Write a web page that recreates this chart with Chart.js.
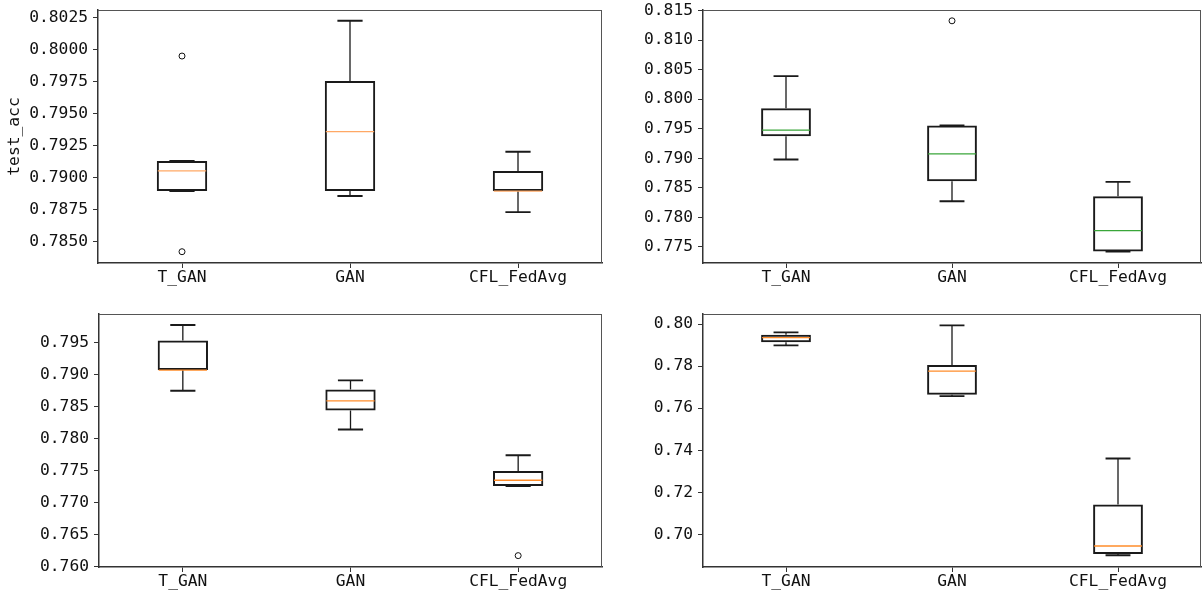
<!DOCTYPE html>
<html><head><meta charset="utf-8">
<script src="https://cdn.jsdelivr.net/npm/chart.js@4.4.0/dist/chart.umd.min.js"></script>
<style>
html,body{margin:0;padding:0;background:#fff;width:1202px;height:594px;overflow:hidden;position:relative;}
canvas{position:absolute;}
</style></head><body>
<canvas id="c1" width="605" height="297" style="left:0px;top:0px"></canvas>
<canvas id="c2" width="597" height="297" style="left:605px;top:0px"></canvas>
<canvas id="c3" width="605" height="297" style="left:0px;top:297px"></canvas>
<canvas id="c4" width="597" height="297" style="left:605px;top:297px"></canvas>
<script>
const categories = ['T_GAN', 'GAN', 'CFL_FedAvg'];

// Top-left panel (test_acc)
const tlLow    = [0.78895, 0.78856, 0.78731];
const tlQ1     = [0.78895, 0.78895, 0.78895];
const tlMedian = [0.79053, 0.79358, 0.78895];
const tlQ3     = [0.79129, 0.79753, 0.79051];
const tlHigh   = [0.79129, 0.80223, 0.79202];
const tlOutliers = [[0.79948, 0.78422], [], []];
const tlTicks  = [0.7850, 0.7875, 0.7900, 0.7925, 0.7950, 0.7975, 0.8000, 0.8025];

// Top-right panel
const trLow    = [0.78980, 0.78274, 0.77422];
const trQ1     = [0.79375, 0.78613, 0.77422];
const trMedian = [0.79476, 0.79075, 0.77778];
const trQ3     = [0.79849, 0.79556, 0.78359];
const trHigh   = [0.80391, 0.79556, 0.78601];
const trOutliers = [[], [0.81327], []];
const trTicks  = [0.775, 0.780, 0.785, 0.790, 0.795, 0.800, 0.805, 0.810, 0.815];

// Bottom-left panel
const blLow    = [0.78748, 0.78143, 0.77259];
const blQ1     = [0.79072, 0.78440, 0.77259];
const blMedian = [0.79072, 0.78591, 0.77348];
const blQ3     = [0.79537, 0.78770, 0.77494];
const blHigh   = [0.79777, 0.78911, 0.77740];
const blOutliers = [[], [], [0.76168]];
const blTicks  = [0.760, 0.765, 0.770, 0.775, 0.780, 0.785, 0.790, 0.795];

// Bottom-right panel
const brLow    = [0.78987, 0.76576, 0.69016];
const brQ1     = [0.79130, 0.76638, 0.69078];
const brMedian = [0.79350, 0.77765, 0.69458];
const brQ3     = [0.79491, 0.78050, 0.71427];
const brHigh   = [0.79605, 0.79938, 0.73614];
const brOutliers = [[], [], []];
const brTicks  = [0.70, 0.72, 0.74, 0.76, 0.78, 0.80];

const FONT = "'DejaVu Sans Mono', 'Liberation Mono', monospace";
const FSIZE = 16.3;
const TEXT = '#111';
const LINE = '#1a1a1a';

const boxParts = {
  id: 'boxParts',
  beforeDatasetsDraw(chart) {
    const o = chart.options.plugins.boxParts;
    const x = chart.scales.x, y = chart.scales.y, ctx = chart.ctx;
    const catW = x.width / categories.length;
    const capW = catW * 0.15;
    ctx.save();
    ctx.strokeStyle = LINE;
    categories.forEach((c, i) => {
      const cx = x.getPixelForValue(i);
      ctx.lineWidth = 1.3;
      ctx.beginPath();
      ctx.moveTo(cx, y.getPixelForValue(o.q3[i]));
      ctx.lineTo(cx, y.getPixelForValue(o.high[i]));
      ctx.moveTo(cx, y.getPixelForValue(o.q1[i]));
      ctx.lineTo(cx, y.getPixelForValue(o.low[i]));
      ctx.stroke();
      ctx.lineWidth = 1.9;
      ctx.beginPath();
      const yh = y.getPixelForValue(o.high[i]);
      const yl = y.getPixelForValue(o.low[i]);
      ctx.moveTo(cx - capW / 2, yh); ctx.lineTo(cx + capW / 2, yh);
      ctx.moveTo(cx - capW / 2, yl); ctx.lineTo(cx + capW / 2, yl);
      ctx.stroke();
    });
    ctx.restore();
  },
  afterDatasetsDraw(chart) {
    const o = chart.options.plugins.boxParts;
    const x = chart.scales.x, y = chart.scales.y, ctx = chart.ctx;
    const catW = x.width / categories.length;
    const boxW = catW * 0.3;
    ctx.save();
    ctx.strokeStyle = o.medianColor;
    ctx.lineWidth = 1.3;
    categories.forEach((c, i) => {
      const cx = x.getPixelForValue(i);
      const ym = y.getPixelForValue(o.median[i]);
      ctx.beginPath();
      ctx.moveTo(cx - boxW / 2 + 1, ym); ctx.lineTo(cx + boxW / 2 - 1, ym);
      ctx.stroke();
    });
    // top and right spines
    const a = chart.chartArea;
    ctx.strokeStyle = '#555';
    ctx.lineWidth = 1;
    ctx.beginPath();
    ctx.moveTo(a.left, a.top + 0.5); ctx.lineTo(a.right, a.top + 0.5);
    ctx.moveTo(a.right - 0.5, a.top); ctx.lineTo(a.right - 0.5, a.bottom);
    ctx.stroke();
    ctx.restore();
  }
};

function zeroPad(sc) {
  sc.paddingTop = 0; sc.paddingBottom = 0; sc.paddingLeft = 0; sc.paddingRight = 0;
}

function makeChart(id, s) {
  const outlierPts = [];
  s.outliers.forEach((arr, i) => arr.forEach(v => outlierPts.push({ x: categories[i], y: v })));
  return new Chart(document.getElementById(id), {
    type: 'bar',
    data: {
      labels: categories,
      datasets: [
        {
          type: 'bar',
          data: categories.map((c, i) => [s.q1[i], s.q3[i]]),
          backgroundColor: 'rgba(0,0,0,0)',
          borderColor: LINE,
          borderWidth: 2,
          borderSkipped: false,
          barPercentage: 0.3,
          categoryPercentage: 1.0
        },
        {
          type: 'line',
          data: outlierPts,
          showLine: false,
          pointRadius: 3,
          pointBorderWidth: 1,
          pointBackgroundColor: '#fff',
          pointBorderColor: '#111'
        }
      ]
    },
    options: {
      responsive: false,
      animation: false,
      devicePixelRatio: 1,
      layout: { autoPadding: false, padding: { top: s.padTop, right: s.padRight, left: 0, bottom: 0 } },
      plugins: {
        legend: { display: false },
        tooltip: { enabled: false },
        boxParts: { low: s.low, q1: s.q1, median: s.median, q3: s.q3, high: s.high, medianColor: s.medianColor }
      },
      scales: {
        x: {
          type: 'category',
          offset: true,
          grid: { display: true, offset: false, drawOnChartArea: false, drawTicks: true, tickLength: 5, color: '#333' },
          border: { display: true, color: '#333', width: 1.5 },
          ticks: { color: TEXT, font: { family: FONT, size: FSIZE }, padding: 0, maxRotation: 0, autoSkip: false },
          afterFit: (sc) => { sc.height = s.xHeight; zeroPad(sc); }
        },
        y: {
          type: 'linear',
          min: s.min, max: s.max,
          grid: { display: true, drawOnChartArea: false, drawTicks: true, tickLength: 5, color: '#333' },
          border: { display: true, color: '#333', width: 1.5 },
          ticks: {
            color: TEXT, font: { family: FONT, size: FSIZE }, padding: 5,
            callback: (v) => Number(v).toFixed(s.decimals)
          },
          afterBuildTicks: (sc) => { sc.ticks = s.ticks.map(v => ({ value: v })); },
          afterFit: (sc) => { sc.width = s.yWidth; zeroPad(sc); },
          title: s.title ? { display: true, text: s.title, color: TEXT, font: { family: FONT, size: FSIZE }, padding: { top: 5, bottom: 0 } } : { display: false }
        }
      }
    },
    plugins: [boxParts]
  });
}

makeChart('c1', { low: tlLow, q1: tlQ1, median: tlMedian, q3: tlQ3, high: tlHigh, outliers: tlOutliers,
  ticks: tlTicks, decimals: 4, min: 0.78334, max: 0.80307, medianColor: '#ffa865',
  padTop: 10, padRight: 3, xHeight: 34, yWidth: 98, title: 'test_acc' });
makeChart('c2', { low: trLow, q1: trQ1, median: trMedian, q3: trQ3, high: trHigh, outliers: trOutliers,
  ticks: trTicks, decimals: 3, min: 0.77229, max: 0.8151, medianColor: '#3aa63a',
  padTop: 10, padRight: 1, xHeight: 34, yWidth: 98, title: null });
makeChart('c3', { low: blLow, q1: blQ1, median: blMedian, q3: blQ3, high: blHigh, outliers: blOutliers,
  ticks: blTicks, decimals: 3, min: 0.7599, max: 0.7995, medianColor: '#ff8c2a',
  padTop: 17, padRight: 3, xHeight: 27, yWidth: 99, title: null });
makeChart('c4', { low: brLow, q1: brQ1, median: brMedian, q3: brQ3, high: brHigh, outliers: brOutliers,
  ticks: brTicks, decimals: 2, min: 0.6846, max: 0.80476, medianColor: '#ff8c2a',
  padTop: 17, padRight: 1, xHeight: 27, yWidth: 98, title: null });
</script>
</body></html>
